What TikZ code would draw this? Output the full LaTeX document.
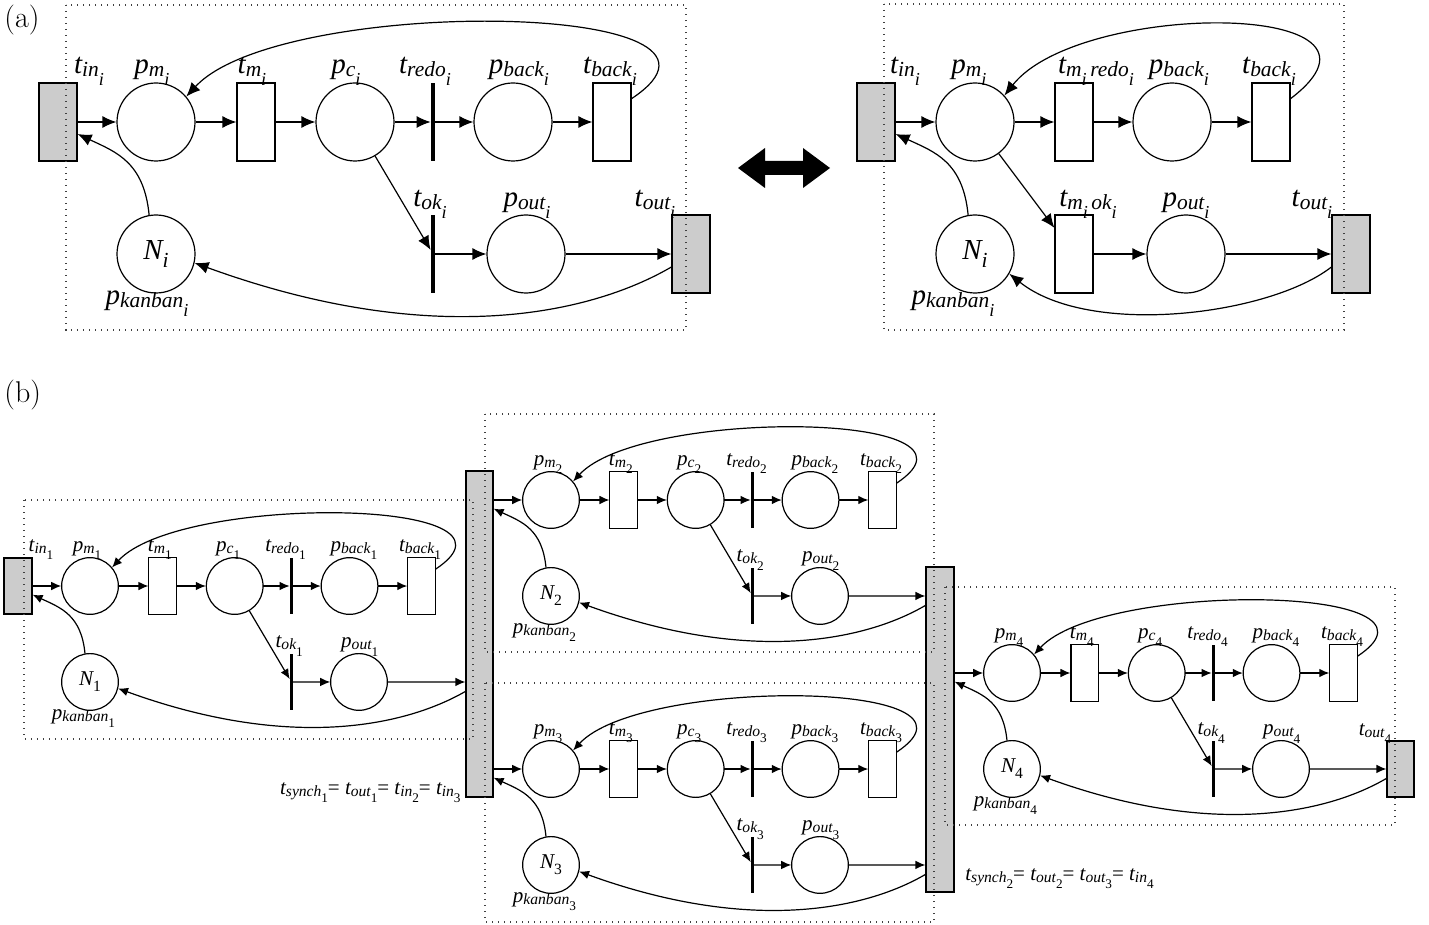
\documentclass[tikz,border=0pt]{standalone}
\usepackage{fontspec}
\newfontfamily\tms{Liberation Serif}
\usetikzlibrary{arrows.meta,calc}
\newcommand\ksa[2]{#1\raisebox{-0.1em}{\scalebox{0.74}{#2}}}
\newcommand\ksb[2]{#1\raisebox{-0.4em}{\scalebox{0.85}{#2}}}
\newcommand\ksc[2]{#1\raisebox{-0.28em}{\scalebox{0.74}{#2}}}
\tikzset{
  labfont/.style={font=\fontsize{14.5}{17}\selectfont\tms\itshape},
  place/.style={circle,draw,line width=0.6pt,minimum size=39pt,inner sep=0pt,labfont},
  trans/.style={rectangle,draw,line width=0.6pt,minimum width=19pt,minimum height=39pt,inner sep=0pt,fill=white},
  gtrans/.style={trans,fill=black!20},
  tbar/.style={rectangle,fill=black,draw=none,minimum width=2pt,minimum height=39pt,inner sep=0pt},
  lbl/.style={anchor=base,inner sep=0pt,labfont},
  slbl/.style={anchor=base,inner sep=0pt,font=\fontsize{10.5}{12}\selectfont\tms\itshape},
  link/.style={line width=0.6pt},
  karr/.style={link,-{Latex[length=7pt,width=6pt]}},
  dotbox/.style={line width=0.7pt,black!75,dash pattern=on 0.7pt off 2.3pt},
}
\newcommand\kbnet[7]{%
\begin{scope}[shift={(#2,#3)},scale=#4,transform shape]
  \node[place] (#1pm) at (0,0) {};
  \node[trans] (#1tm) at (100,0) {};
  \node[place] (#1pc) at (199,0) {};
  \node[tbar] (#1tredo) at (277,0) {};
  \node[place] (#1pback) at (357,0) {};
  \node[trans] (#1tback) at (456,0) {};
  \node[tbar] (#1tok) at (277,132) {};
  \node[place] (#1pout) at (370,132) {};
  \node[place] (#1N) at (0,132) {\ksc{N}{#5}};
  \node[lbl] (#1lpm) at (-4,-48) {\ksa{p}{\ksb{m}{#5}}};
  \node[lbl] (#1ltm) at (96,-48) {\ksa{t}{\ksb{m}{#5}}};
  \node[lbl] (#1lpc) at (190,-48) {\ksa{p}{\ksb{c}{#5}}};
  \node[lbl] (#1ltredo) at (269,-48) {\ksa{t}{\ksb{redo}{#5}}};
  \node[lbl] (#1lpback) at (363,-48) {\ksa{p}{\ksb{back}{#5}}};
  \node[lbl] (#1ltback) at (454,-48) {\ksa{t}{\ksb{back}{#5}}};
  \node[lbl] (#1ltok) at (274,85) {\ksa{t}{\ksb{ok}{#5}}};
  \node[lbl] (#1lpout) at (371,85) {\ksa{p}{\ksb{out}{#5}}};
  \node[lbl] (#1lkan) at (-9,183) {\ksa{p}{\ksb{kanban}{#5}}};
  \coordinate (#1inpt) at (0,12);
  \coordinate (#1outpt) at (0,145);
  \draw[karr] (#6.east |- #1pm) -- (#1pm);
  \draw[karr] (#1pm) -- (#1tm);
  \draw[karr] (#1tm) -- (#1pc);
  \draw[karr] (#1pc) -- (#1tredo);
  \draw[karr] (#1tredo) -- (#1pback);
  \draw[karr] (#1pback) -- (#1tback);
  \draw[karr] (#1pc) -- (#1tok);
  \draw[karr] (#1tok) -- (#1pout);
  \draw[karr] (#1pout) -- (#1pout -| #7.west);
  \draw[karr] (#1tback.50) .. controls (624,-122) and (124,-127) .. (#1pm.40);
  \draw[karr] (#1N.100) .. controls (-12,40) and (-40,30) .. (#6.east |- #1inpt);
  \draw[karr] (#7.west |- #1outpt) .. controls (433,193) and (275,227) .. (#1N.-13);
\end{scope}}
\begin{document}
\begin{tikzpicture}[x=0.5pt,y=-0.5pt]
\useasboundingbox (0,0) rectangle (1429,925);
% panel labels
\node[anchor=base west,inner sep=0pt,font=\fontsize{15}{17}\selectfont] (lba) at (4,27.5) {(a)};
\node[anchor=base west,inner sep=0pt,font=\fontsize{15}{17}\selectfont] (lbb) at (4,402.5) {(b)};

% ---------- (a) left ----------
\node[gtrans] (Ltin) at (58,122) {};
\node[gtrans] (Ltout) at (691,254) {};
\node[lbl] (Lltin) at (89,74) {\ksa{t}{\ksb{in}{i}}};
\node[lbl] (Lltout) at (655,207) {\ksa{t}{\ksb{out}{i}}};
\kbnet{L}{156}{122}{1}{i}{Ltin}{Ltout}

% double arrow
\fill (738,168) -- (765,148) -- (765,161) -- (803,161) -- (803,148) -- (830,168)
  -- (803,188) -- (803,175) -- (765,175) -- (765,188) -- cycle;

% ---------- (a) right ----------
\begin{scope}[shift={(975,122)}]
  \node[gtrans] (Rtin) at (-99,0) {};
  \node[place] (Rpm) at (0,0) {};
  \node[trans] (Rtmr) at (99,0) {};
  \node[place] (Rpback) at (197,0) {};
  \node[trans] (Rtback) at (296,0) {};
  \node[trans] (Rtmo) at (99,132) {};
  \node[place] (Rpout) at (211,132) {};
  \node[gtrans] (Rtout) at (376,132) {};
  \node[place] (RN) at (0,132) {\ksc{N}{i}};
  \node[lbl] (Rltin) at (-70,-48) {\ksa{t}{\ksb{in}{i}}};
  \node[lbl] (Rlpm) at (-6,-48) {\ksa{p}{\ksb{m}{i}}};
  \node[lbl] (Rltmr) at (121,-48) {\ksa{t}{\ksb{m}{i}\,\ksb{redo}{i}}};
  \node[lbl] (Rlpback) at (204,-48) {\ksa{p}{\ksb{back}{i}}};
  \node[lbl] (Rltback) at (294,-48) {\ksa{t}{\ksb{back}{i}}};
  \node[lbl] (Rltmo) at (113,85) {\ksa{t}{\ksb{m}{i}\,\ksb{ok}{i}}};
  \node[lbl] (Rlpout) at (211,85) {\ksa{p}{\ksb{out}{i}}};
  \node[lbl] (Rltout) at (337,85) {\ksa{t}{\ksb{out}{i}}};
  \node[lbl] (Rlkan) at (-22,183) {\ksa{p}{\ksb{kanban}{i}}};
  \coordinate (Rinpt) at (0,12);
  \coordinate (Routpt) at (0,145);
  \draw[karr] (Rtin) -- (Rpm);
  \draw[karr] (Rpm) -- (Rtmr);
  \draw[karr] (Rtmr) -- (Rpback);
  \draw[karr] (Rpback) -- (Rtback);
  \draw[karr] (Rpm) -- (Rtmo);
  \draw[karr] (Rtmo) -- (Rpout);
  \draw[karr] (Rpout) -- (Rtout);
  \draw[karr] (Rtback.50) .. controls (445,-122) and (105,-122) .. (Rpm.42);
  \draw[karr] (RN.100) .. controls (-12,40) and (-40,30) .. (Rtin.east |- Rinpt);
  \draw[karr] (Rtout.west |- Routpt) .. controls (295,193) and (115,216) .. (RN.-30);
\end{scope}

% ---------- (b) ----------
\tikzset{karr/.style={link,-{Latex[length=5pt,width=4.3pt]}}}
\node[gtrans,minimum width=14pt,minimum height=28pt] (Btin) at (18,586) {};
\node[gtrans,minimum width=13.5pt,minimum height=163pt] (Bsync1) at (479.5,634) {};
\node[gtrans,minimum width=14pt,minimum height=162.5pt] (Bsync2) at (940,729.5) {};
\node[gtrans,minimum width=13.5pt,minimum height=28pt] (Btout) at (1400.5,769) {};
\node[slbl] (Bltin) at (41,551) {\ksa{t}{\ksb{in}{\upshape 1}}};
\node[slbl] (Bltout) at (1375,735) {\ksa{t}{\ksb{out}{\upshape 4}}};
\kbnet{P}{90}{586}{0.727}{\upshape 1}{Btin}{Bsync1}
\kbnet{Q}{551}{500}{0.727}{\upshape 2}{Bsync1}{Bsync2}
\kbnet{U}{551}{769}{0.727}{\upshape 3}{Bsync1}{Bsync2}
\kbnet{S}{1012}{673}{0.727}{\upshape 4}{Bsync2}{Btout}
\node[slbl,anchor=base east] (syn1) at (461,794)
  {\ksa{t}{\ksb{synch}{\upshape 1}}{\upshape =} \ksa{t}{\ksb{out}{\upshape 1}}{\upshape =} \ksa{t}{\ksb{in}{\upshape 2}}{\upshape =} \ksa{t}{\ksb{in}{\upshape 3}}};
\node[slbl,anchor=base west] (syn2) at (965,880)
  {\ksa{t}{\ksb{synch}{\upshape 2}}{\upshape =} \ksa{t}{\ksb{out}{\upshape 2}}{\upshape =} \ksa{t}{\ksb{out}{\upshape 3}}{\upshape =} \ksa{t}{\ksb{in}{\upshape 4}}};

% dotted frames
\draw[dotbox] (66,5) rectangle (686,330);
\draw[dotbox] (884,4) rectangle (1344,330);
\draw[dotbox] (24,500) rectangle (473,739);
\draw[dotbox] (485,414) rectangle (934,652);
\draw[dotbox] (485,683) rectangle (934,922);
\draw[dotbox] (945,587) rectangle (1395,825);
\end{tikzpicture}
\end{document}
